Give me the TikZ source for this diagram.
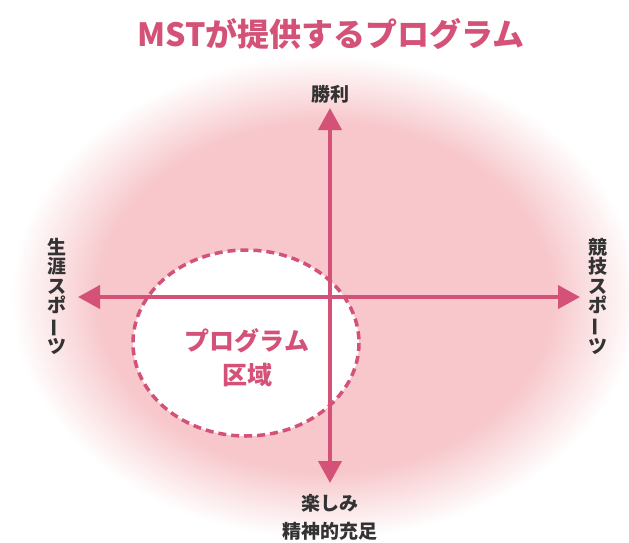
\documentclass[tikz,border=0pt]{standalone}
\usepackage{fontspec}
\newfontfamily\jp{Noto Sans CJK JP}
\usetikzlibrary{arrows.meta}

\definecolor{mstpink}{RGB}{212,82,120}
\definecolor{bgpink}{RGB}{247,199,203}
\pgfdeclareradialshading{pinkglow}{\pgfpoint{0bp}{0bp}}{color(0bp)=(bgpink); color(18bp)=(bgpink); color(25bp)=(white); color(50bp)=(white)}

\tikzset{
  axis/.style={mstpink, line width=4pt,
    {Triangle[length=22pt,width=23pt]}-{Triangle[length=22pt,width=23pt]}},
  axislabel/.style={font=\jp\bfseries\fontsize{19}{19.5}\selectfont, text=black!80,
    inner sep=0pt, align=center},
}

\begin{document}
\begin{tikzpicture}[x=1pt,y=-1pt]
  \useasboundingbox (0,0) rectangle (629,542);
  % background glow
  \shade[shading=pinkglow] (325,297) ellipse [x radius=314, y radius=242];
  % title
  \node[font=\jp\bfseries\fontsize{32}{34}\selectfont, text=mstpink] (title) at (331,34) {MSTが提供するプログラム};
  %
  \draw[mstpink, line width=3.5pt, dash pattern=on 8pt off 5pt, fill=white] (246,343) ellipse [x radius=113, y radius=93];
  \node[font=\jp\bfseries\fontsize{25}{34}\selectfont, text=mstpink, align=center] (region) at (247,358) {プログラム\\区域};
  %
  \coordinate (toptip) at (330,108);
  \coordinate (bottomtip) at (330,483);
  \coordinate (lefttip) at (78,297);
  \coordinate (righttip) at (580,297);
  \draw[axis] (lefttip) -- (righttip);
  \draw[axis] (toptip) -- (bottomtip);
  %
  \node[axislabel] (victory) at (330,94) {勝利};
  \node[axislabel, font=\jp\bfseries\fontsize{19}{28}\selectfont] (enjoy) at (330,517) {楽しみ\\精神的充足};
  \node[axislabel] (lifelong) at (57,296) {生\\涯\\ス\\ポ\\\rotatebox[origin=c]{90}{ー}\\ツ};
  \node[axislabel] (competitive) at (598,296) {競\\技\\ス\\ポ\\\rotatebox[origin=c]{90}{ー}\\ツ};
\end{tikzpicture}
\end{document}
